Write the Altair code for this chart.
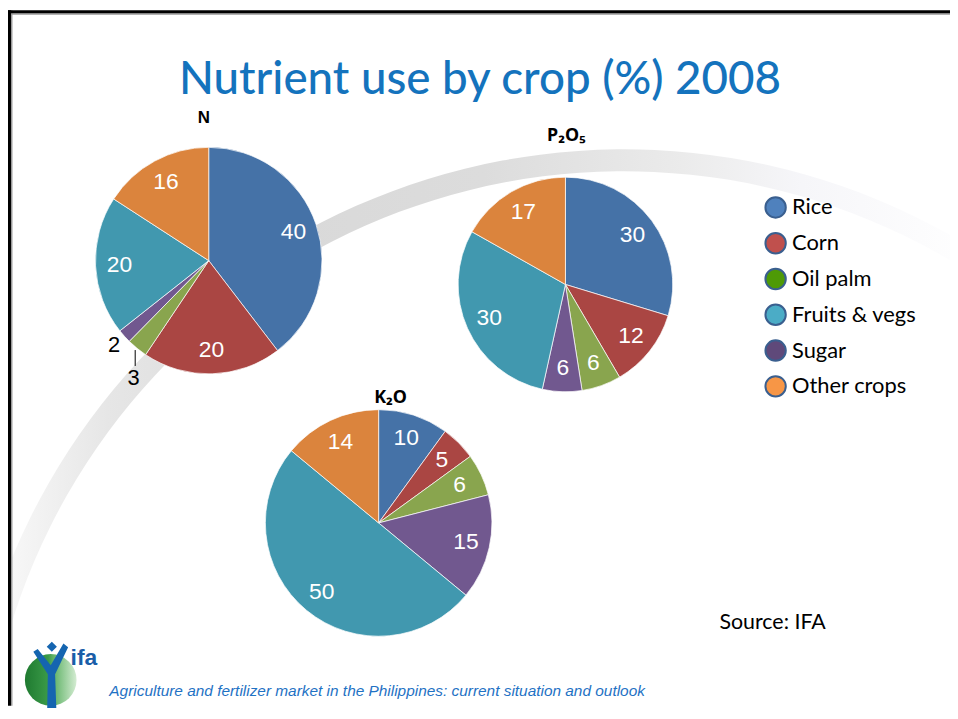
import altair as alt
import pandas as pd

# ---------------- data ----------------
crops = ["Rice", "Corn", "Oil palm", "Sugar", "Fruits & vegs", "Other crops"]
n_values = [40, 20, 3, 2, 20, 16]
p2o5_values = [30, 12, 6, 6, 30, 17]
k2o_values = [10, 5, 6, 15, 50, 14]
pie_colors = ["#4572A7", "#AA4643", "#89A54E", "#71588F", "#4198AF", "#DB843D"]

legend_crops = ["Rice", "Corn", "Oil palm", "Fruits & vegs", "Sugar", "Other crops"]
legend_colors = ["#4F81BD", "#C0504D", "#4E9A06", "#4BACC6", "#5F497A", "#F79646"]

title_text = "Nutrient use by crop (%) 2008"
pie_titles = ["N", "P₂O₅", "K₂O"]
source_text = "Source: IFA"
footer_text = "Agriculture and fertilizer market in the Philippines: current situation and outlook"
logo_text = "ifa"

LABEL_FONT = "Liberation Sans Narrow, Arial Narrow, Liberation Sans, Arial"
W, H = 948, 700


def one_row():
    return pd.DataFrame({"a": [0]})


def text_layer(s, x, y, **kw):
    return alt.Chart(pd.DataFrame({"t": [s]})).mark_text(**kw).encode(
        x=alt.value(x), y=alt.value(y), text="t:N")


def pie(values, cx, cy, r, lab_r, outside=()):
    df = pd.DataFrame({"crop": crops, "value": values, "idx": list(range(len(crops)))})
    calc = {"inside": "datum.value >= 5 ? '' + datum.value : ''"}
    for i, (crop, _, _, _) in enumerate(outside):
        calc[f"out{i}"] = f"datum.value < 5 && datum.crop == '{crop}' ? '' + datum.value : ''"
    base = alt.Chart(df).transform_calculate(**calc).encode(
        theta=alt.Theta("value:Q", stack="normalize"),
        order=alt.Order("idx:Q", sort="ascending"),
        x=alt.value(cx), y=alt.value(cy),
    )
    arcs = base.mark_arc(radius=r, stroke="#ffffff", strokeWidth=0.7).encode(
        color=alt.Color("crop:N", scale=alt.Scale(domain=crops, range=pie_colors), legend=None))
    labels = base.mark_text(radius=lab_r, font=LABEL_FONT, fontSize=23, color="white").encode(
        text="inside:N", detail="crop:N")
    layers = [arcs, labels]
    for i, (crop, rad, dx, dy) in enumerate(outside):
        layers.append(base.mark_text(radius=rad, dx=dx, dy=dy, font=LABEL_FONT, fontSize=22,
                                     color="black").encode(text=f"out{i}:N", detail="crop:N"))
    return layers


# background swoosh
swoosh = alt.Chart(one_row()).mark_arc(
    theta=5.0, theta2=6.85, radius=667, radius2=645,
    color=alt.Gradient(gradient="linear", x1=0, y1=0, x2=1, y2=0, stops=[
        alt.GradientStop(offset=0, color="#fbfbfb"),
        alt.GradientStop(offset=0.12, color="#e6e6e6"),
        alt.GradientStop(offset=0.3, color="#d9d9d9"),
        alt.GradientStop(offset=0.5, color="#dcdcdc"),
        alt.GradientStop(offset=0.7, color="#ebebeb"),
        alt.GradientStop(offset=0.82, color="#f6f6f9"),
        alt.GradientStop(offset=1, color="#ffffff"),
    ])
).encode(x=alt.value(620), y=alt.value(807))

# slide frame
frame = [
    alt.Chart(one_row()).mark_rect(color="#9a9a9a").encode(
        x=alt.value(0), x2=alt.value(W), y=alt.value(3), y2=alt.value(4.5)),
    alt.Chart(one_row()).mark_rect(color="#9a9a9a").encode(
        x=alt.value(3), x2=alt.value(4.5), y=alt.value(0), y2=alt.value(H)),
    alt.Chart(one_row()).mark_rect(color="#000000").encode(
        x=alt.value(0), x2=alt.value(W), y=alt.value(0), y2=alt.value(3)),
    alt.Chart(one_row()).mark_rect(color="#000000").encode(
        x=alt.value(0), x2=alt.value(3), y=alt.value(0), y2=alt.value(H)),
]

# pies
pie_n = pie(n_values, 202, 252, 114, 90, outside=[("Sugar", 128, 0, 0), ("Oil palm", 134, 9, 14)])
leader = alt.Chart(one_row()).mark_rule(color="black", strokeWidth=1).encode(
    x=alt.value(128), y=alt.value(342), y2=alt.value(358))
pie_p = pie(p2o5_values, 561, 276, 108, 84)
pie_k = pie(k2o_values, 373, 516, 114, 90)

# titles / texts
title = text_layer(title_text, 475, 84, font="Lato", fontSize=46, fontWeight=500, color="#1473BD",
                   align="center", baseline="alphabetic")
t_n = text_layer(pie_titles[0], 197, 109, font="Liberation Sans", fontSize=17, fontWeight="bold",
                 color="black", align="center", baseline="middle")
t_p = text_layer(pie_titles[1], 562, 127, font="Noto Sans", fontSize=18, fontWeight="bold",
                 color="black", align="center", baseline="middle")
t_k = text_layer(pie_titles[2], 385, 390, font="Noto Sans", fontSize=18, fontWeight="bold",
                 color="black", align="center", baseline="middle")
source = text_layer(source_text, 716, 617, font="Lato", fontSize=21.5, color="black",
                    align="left", baseline="middle")
footer = text_layer(footer_text, 102, 685, font=LABEL_FONT, fontSize=15.5, fontStyle="italic",
                    color="#1F72C4", align="left", baseline="middle")

# logo
logo_circle = alt.Chart(one_row()).mark_point(
    shape="circle", size=2704, filled=True, opacity=1,
    fill=alt.Gradient(gradient="linear", x1=0, y1=0, x2=1, y2=0, stops=[
        alt.GradientStop(offset=0, color="#1f7a30"),
        alt.GradientStop(offset=0.45, color="#3a9a48"),
        alt.GradientStop(offset=0.55, color="#5fb266"),
        alt.GradientStop(offset=1, color="#d4ecd2"),
    ]), strokeWidth=0
).encode(x=alt.value(43), y=alt.value(674))
logo_figure = alt.Chart(one_row()).mark_point(
    shape=("M -0.48 -0.72 L -0.36 -0.80 L 0.0 -0.35 L 0.35 -0.95 L 0.48 -0.85 L 0.12 -0.1 "
           "L 0.16 1 L -0.1 1 L -0.08 -0.1 Z M 0.03 -1 L 0.17 -0.86 L 0.03 -0.72 L -0.11 -0.86 Z"),
    size=5329, filled=True, opacity=1, color="#1565B0", strokeWidth=0
).encode(x=alt.value(43), y=alt.value(672))
logo_word = text_layer(logo_text, 63, 659, font="Liberation Sans", fontSize=23, fontWeight="bold",
                       color="#1A5EA8", align="left", baseline="alphabetic")

# legend (own fill scale, invisible marks)
legend_layer = alt.Chart(pd.DataFrame({"crop": legend_crops})).mark_circle(size=1, opacity=0).encode(
    x=alt.value(900), y=alt.value(650),
    fill=alt.Fill("crop:N", scale=alt.Scale(domain=legend_crops, range=legend_colors),
                  legend=alt.Legend(orient="none", legendX=761, legendY=187, title=None,
                                    symbolType="circle", symbolSize=420, symbolOpacity=1,
                                    symbolStrokeColor="#3A5F8F", symbolStrokeWidth=2,
                                    labelFont="Lato", labelFontSize=22, labelColor="black",
                                    labelOffset=5, rowPadding=7, labelLimit=300)),
)

layers = [swoosh] + frame + pie_n + [leader] + pie_p + pie_k + [
    title, t_n, t_p, t_k, source, footer,
    logo_circle, logo_figure, logo_word, legend_layer]

chart = alt.layer(*layers).properties(
    width=W, height=H, padding=0, autosize=alt.AutoSizeParams(type="none"),
    background="white",
).configure_view(stroke=None)

chart.save("out.html", embed_options={"renderer": "svg", "actions": False})
